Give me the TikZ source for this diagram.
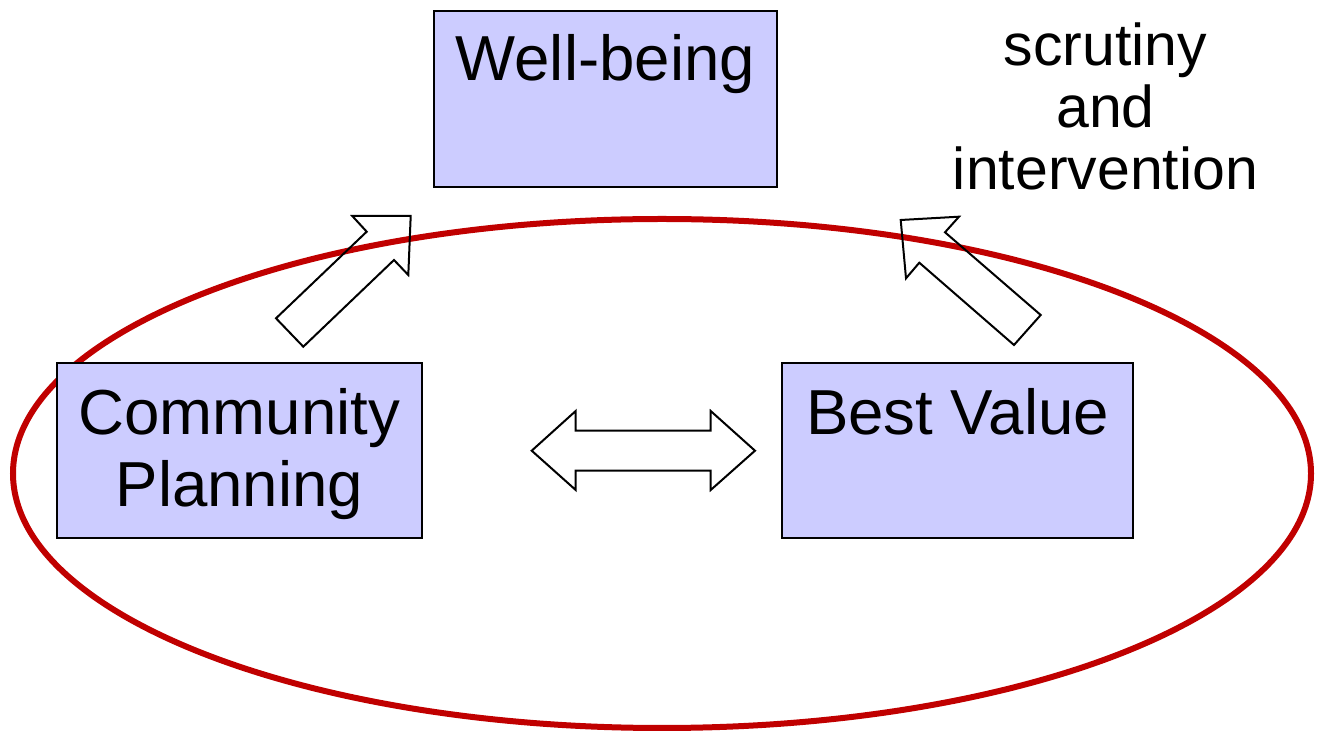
\documentclass[tikz,border=0pt]{standalone}
\usepackage{fontspec}
\setmainfont{Liberation Sans}
\usepackage{xcolor}

\definecolor{boxblue}{RGB}{204,204,255}
\definecolor{ringred}{RGB}{192,0,0}

\begin{document}
\begin{tikzpicture}[x=0.5pt,y=-0.5pt,
		box/.style={draw=black,line width=1pt,fill=boxblue,inner sep=0pt,align=center,
			font=\fontsize{31.8}{36.3}\selectfont},
		blockarrow/.style={draw=black,line width=1pt,line join=miter}]
		
		\useasboundingbox (0,0) rectangle (1318,731);
		
		% Outer Ring
		\draw[ringred,line width=3pt] (662,473.5) ellipse [x radius=649, y radius=254.5];
		
		% Top Box: Well-being
		\node[box,minimum width=171.3pt,minimum height=87.9pt,text height=35pt,text depth=52.9pt]
			(wellbeing) at (605.3,98.9) {Well-being};
		
		% Left Box: Community Planning
		\node[box,minimum width=182.2pt,minimum height=87.5pt,text height=71.8pt,text depth=15.7pt]
			(commplan) at (239.5,450.7) {Community\\Planning};
		
		% Right Box: Best Value
		\node[box,minimum width=175.5pt,minimum height=87.5pt,text height=35.5pt,text depth=52pt]
			(bestvalue) at (957.5,450.7) {Best Value};
		
		% Block Arrows
		\draw[blockarrow] (352.3,216) -- (410.7,216) -- (408.3,275) -- (394,260) -- (303.3,346.7)
			-- (276,318.3) -- (366.7,231.7) -- cycle;
		\draw[blockarrow] (900.7,220) -- (959,216.7) -- (945,232.3) -- (1040.7,315) -- (1014,345)
			-- (919.3,262.7) -- (906,278.3) -- cycle;
		\draw[blockarrow] (531.7,450.7) -- (575.7,411) -- (575.7,430.7) -- (710.7,430.7) -- (710.7,411)
			-- (755,450.7) -- (710.7,490) -- (710.7,470.7) -- (575.7,470.7) -- (575.7,490) -- cycle;
		
		% Label
		\node[font=\fontsize{29.5}{31}\selectfont,align=center,inner sep=0pt,anchor=base]
			(scrutiny) at (1105.5,190) {scrutiny\\and\\intervention};
		
	\end{tikzpicture}
\end{document}
